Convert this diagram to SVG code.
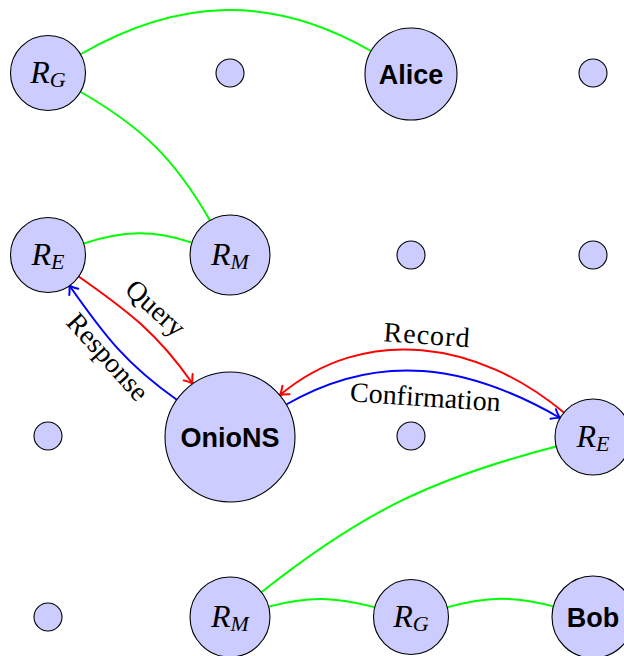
<svg xmlns="http://www.w3.org/2000/svg" width="624" height="656" viewBox="0 0 624 656">
<defs>
<style>
.node{fill:#ccccff;stroke:#000;stroke-width:1.1}
.math{font-family:"Liberation Serif",serif;font-style:italic;font-size:32px;fill:#000}
.sub{font-size:22px}
.bold{font-family:"Liberation Sans",sans-serif;font-weight:bold;font-size:27px;fill:#000}
.lbl{font-family:"Liberation Serif",serif;font-size:28px;fill:#000}
.g{fill:none;stroke:#00ff00;stroke-width:2}
.r{fill:none;stroke:#ff0000;stroke-width:2;marker-end:url(#ar)}
.b{fill:none;stroke:#0000ff;stroke-width:2;marker-end:url(#ab)}
</style>
<marker id="ar" markerUnits="userSpaceOnUse" orient="auto" markerWidth="20" markerHeight="20" refX="0" refY="0" viewBox="-10 -10 20 20" overflow="visible">
<path d="M-8,-5.5 C-4.5,-2.5 -1.5,-0.6 0,0 C-1.5,0.6 -4.5,2.5 -8,5.5" fill="none" stroke="#ff0000" stroke-width="2" stroke-linecap="round"/>
</marker>
<marker id="ab" markerUnits="userSpaceOnUse" orient="auto" markerWidth="20" markerHeight="20" refX="0" refY="0" viewBox="-10 -10 20 20" overflow="visible">
<path d="M-8,-5.5 C-4.5,-2.5 -1.5,-0.6 0,0 C-1.5,0.6 -4.5,2.5 -8,5.5" fill="none" stroke="#0000ff" stroke-width="2" stroke-linecap="round"/>
</marker>
</defs>
<rect width="624" height="656" fill="#fff"/>
<g id="connectors">
<path class="g" d="M80,54.5 C179,-2.5 272,-6 371,51"/>
<path class="g" d="M80,91.5 C142.1,127.4 174.2,158.3 210,220.4"/>
<path class="g" d="M83.2,243.6 C123.7,230.6 152,229.6 192,242.6"/>
<path class="g" d="M261.4,592.2 C362.3,512.3 431.5,478.5 556.2,446.5"/>
<path class="g" d="M268.6,606.6 C309,595.8 334.9,596.6 375.3,607.4"/>
<path class="g" d="M446.7,607.4 C487.1,596.6 513,595.6 553.4,606.4"/>
<path class="r" d="M78.3,276.2 C128.7,311.5 157.4,333.4 192.7,383.8"/>
<path class="b" d="M176.8,399.7 C126.4,364.4 104.5,335.7 69.2,285.3"/>
<path class="r" d="M563.9,412.6 C478.6,341 365.1,323.6 279.8,395.2"/>
<path class="b" d="M286.3,404.5 C379.2,350.85 467.2,364.35 560.1,418"/>
<text class="lbl" text-anchor="middle" transform="translate(149.5,315) rotate(42)">Query</text>
<text class="lbl" text-anchor="middle" transform="translate(101,363) rotate(48)">Response</text>
<text class="lbl" text-anchor="middle" transform="translate(426,344.2) rotate(4)" textLength="86">Record</text>
<text class="lbl" text-anchor="middle" transform="translate(424.8,406.3) rotate(3.8)">Confirmation</text>
</g>
<g id="rg1"><circle class="node" cx="48" cy="73" r="37.5"/><text class="math" x="48" y="83" text-anchor="middle">R<tspan class="sub" dy="4">G</tspan></text></g>
<g id="s1"><circle class="node" cx="230" cy="73" r="14"/></g>
<g id="alice"><circle class="node" cx="411" cy="74" r="46"/><text class="bold" x="411" y="84" text-anchor="middle">Alice</text></g>
<g id="s2"><circle class="node" cx="593" cy="73" r="14"/></g>
<g id="re1"><circle class="node" cx="48" cy="255" r="37.5"/><text class="math" x="48" y="265" text-anchor="middle">R<tspan class="sub" dy="4">E</tspan></text></g>
<g id="rm1"><circle class="node" cx="230" cy="255" r="40"/><text class="math" x="230" y="265" text-anchor="middle">R<tspan class="sub" dy="4">M</tspan></text></g>
<g id="s3"><circle class="node" cx="411" cy="255" r="14"/></g>
<g id="s4"><circle class="node" cx="593" cy="255" r="14"/></g>
<g id="s5"><circle class="node" cx="48" cy="436" r="14"/></g>
<g id="onions"><circle class="node" cx="230" cy="437" r="65"/><text class="bold" x="230" y="447" text-anchor="middle">OnioNS</text></g>
<g id="s6"><circle class="node" cx="411" cy="436" r="14"/></g>
<g id="re2"><circle class="node" cx="593" cy="437" r="38"/><text class="math" x="593" y="447" text-anchor="middle">R<tspan class="sub" dy="4">E</tspan></text></g>
<g id="s7"><circle class="node" cx="48" cy="617" r="14"/></g>
<g id="rm2"><circle class="node" cx="230" cy="617" r="40"/><text class="math" x="230" y="627" text-anchor="middle">R<tspan class="sub" dy="4">M</tspan></text></g>
<g id="rg2"><circle class="node" cx="411" cy="617" r="37.5"/><text class="math" x="411" y="627" text-anchor="middle">R<tspan class="sub" dy="4">G</tspan></text></g>
<g id="bob"><circle class="node" cx="593" cy="617" r="41"/><text class="bold" x="593" y="627" text-anchor="middle">Bob</text></g>
</svg>
